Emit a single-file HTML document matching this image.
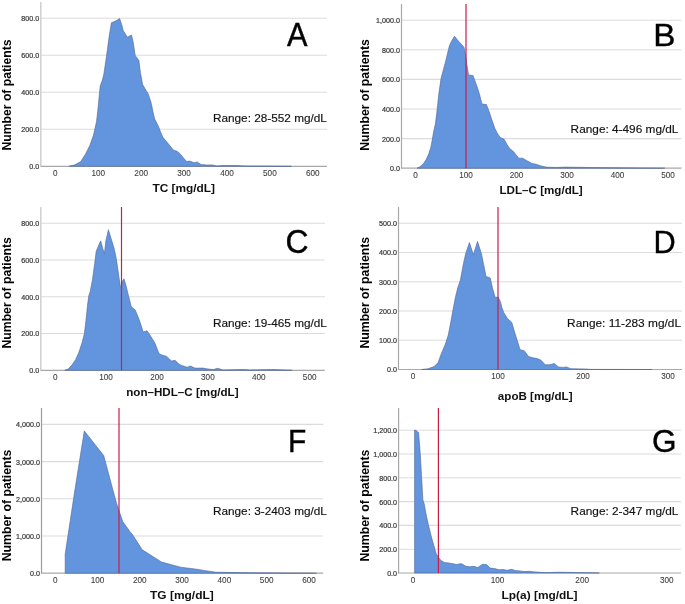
<!DOCTYPE html>
<html><head><meta charset="utf-8"><style>
html,body{margin:0;padding:0;background:#fff;width:685px;height:604px;overflow:hidden}
svg{display:block;will-change:transform;filter:blur(0.35px)}
text{font-family:"Liberation Sans",sans-serif}
.tk{fill:#3a3a3a;stroke:#3a3a3a;stroke-width:0.22px}
.tkx{fill:#3c3c3c;stroke:#3c3c3c;stroke-width:0.08px}
.big{fill:#000;stroke:#000;stroke-width:0.4px}
.rng{fill:#111;stroke:#111;stroke-width:0.15px}
.xt{font-weight:bold;fill:#111}
.yt{font-weight:bold;fill:#000}
</style></head><body>
<svg width="685" height="604" viewBox="0 0 685 604">
<rect width="685" height="604" fill="#fff"/>
<line x1="40.8" y1="129.28" x2="327" y2="129.28" stroke="#dcdcdc" stroke-width="1.1"/>
<line x1="40.8" y1="92.25" x2="327" y2="92.25" stroke="#dcdcdc" stroke-width="1.1"/>
<line x1="40.8" y1="55.22" x2="327" y2="55.22" stroke="#dcdcdc" stroke-width="1.1"/>
<line x1="40.8" y1="18.20" x2="327" y2="18.20" stroke="#dcdcdc" stroke-width="1.1"/>
<line x1="40.8" y1="2" x2="40.8" y2="166.8" stroke="#cfcfcf" stroke-width="1.5"/>
<line x1="40.8" y1="166.30" x2="327" y2="166.30" stroke="#a8a8a8" stroke-width="1.2"/>
<path d="M68.9,166.3 L68.9,166.3 L74.9,164.8 L80.8,161.5 L85.3,154.4 L89.8,145.5 L93.5,135.1 L96.5,121.7 L97.9,109.8 L99.0,97.9 L100.2,86.0 L102.4,80.0 L103.9,74.0 L106.9,53.2 L109.1,36.8 L111.4,22.7 L114.4,21.6 L117.3,20.1 L119.6,18.5 L121.8,24.9 L123.3,30.8 L127.5,37.2 L131.5,35.0 L133.0,41.3 L135.2,55.4 L138.9,60.6 L140.4,72.5 L142.6,84.4 L146.4,91.1 L148.0,93.4 L151.0,102.3 L153.2,112.8 L154.7,119.0 L158.4,126.2 L160.6,132.1 L162.9,137.3 L167.3,142.5 L173.3,150.0 L177.0,151.2 L180.7,154.4 L183.7,158.2 L186.7,161.6 L189.7,161.1 L194.1,162.8 L197.1,161.9 L201.1,164.5 L207.3,165.0 L212.5,164.9 L216.9,166.0 L223.0,165.6 L230.0,165.6 L237.0,165.6 L244.0,166.0 L291.4,166.3 L291.4,166.3 Z" fill="#6395de" stroke="#4d6494" stroke-width="0.6"/>
<text x="39.28" y="169.20" text-anchor="end" style="font-size:7.15px" class="tk" textLength="9.94" lengthAdjust="spacingAndGlyphs">0.0</text>
<text x="39.28" y="132.18" text-anchor="end" style="font-size:7.15px" class="tk" textLength="17.89" lengthAdjust="spacingAndGlyphs">200.0</text>
<text x="39.28" y="95.15" text-anchor="end" style="font-size:7.15px" class="tk" textLength="17.89" lengthAdjust="spacingAndGlyphs">400.0</text>
<text x="39.28" y="58.12" text-anchor="end" style="font-size:7.15px" class="tk" textLength="17.89" lengthAdjust="spacingAndGlyphs">600.0</text>
<text x="39.28" y="21.10" text-anchor="end" style="font-size:7.15px" class="tk" textLength="17.89" lengthAdjust="spacingAndGlyphs">800.0</text>
<text x="55.40" y="175.50" text-anchor="middle" style="font-size:8.2px" class="tkx" textLength="4.56" lengthAdjust="spacingAndGlyphs">0</text>
<text x="98.30" y="175.50" text-anchor="middle" style="font-size:8.2px" class="tkx" textLength="13.68" lengthAdjust="spacingAndGlyphs">100</text>
<text x="141.20" y="175.50" text-anchor="middle" style="font-size:8.2px" class="tkx" textLength="13.68" lengthAdjust="spacingAndGlyphs">200</text>
<text x="184.10" y="175.50" text-anchor="middle" style="font-size:8.2px" class="tkx" textLength="13.68" lengthAdjust="spacingAndGlyphs">300</text>
<text x="227.00" y="175.50" text-anchor="middle" style="font-size:8.2px" class="tkx" textLength="13.68" lengthAdjust="spacingAndGlyphs">400</text>
<text x="269.90" y="175.50" text-anchor="middle" style="font-size:8.2px" class="tkx" textLength="13.68" lengthAdjust="spacingAndGlyphs">500</text>
<text x="312.80" y="175.50" text-anchor="middle" style="font-size:8.2px" class="tkx" textLength="13.68" lengthAdjust="spacingAndGlyphs">600</text>
<text x="286.94" y="46.00" class="big" style="font-size:32.85px" textLength="20.52" lengthAdjust="spacingAndGlyphs">A</text>
<text x="212.93" y="122.00" class="rng" style="font-size:11.48px" textLength="113.96" lengthAdjust="spacingAndGlyphs">Range: 28-552 mg/dL</text>
<text x="152.47" y="191.90" class="xt" style="font-size:11.34px" textLength="62.60" lengthAdjust="spacingAndGlyphs">TC [mg/dL]</text>
<text transform="translate(11.20,0) rotate(-90)" x="-150.62" y="0" class="yt" style="font-size:12.35px" textLength="111.22" lengthAdjust="spacingAndGlyphs">Number of patients</text>
<line x1="401.5" y1="138.60" x2="681.5" y2="138.60" stroke="#dcdcdc" stroke-width="1.1"/>
<line x1="401.5" y1="109.00" x2="681.5" y2="109.00" stroke="#dcdcdc" stroke-width="1.1"/>
<line x1="401.5" y1="79.40" x2="681.5" y2="79.40" stroke="#dcdcdc" stroke-width="1.1"/>
<line x1="401.5" y1="49.80" x2="681.5" y2="49.80" stroke="#dcdcdc" stroke-width="1.1"/>
<line x1="401.5" y1="20.20" x2="681.5" y2="20.20" stroke="#dcdcdc" stroke-width="1.1"/>
<line x1="401.5" y1="4" x2="401.5" y2="168.7" stroke="#a8a8a8" stroke-width="1.2"/>
<line x1="401.5" y1="168.20" x2="681.5" y2="168.20" stroke="#a8a8a8" stroke-width="1.2"/>
<path d="M417.0,168.2 L417.0,168.2 L420.3,166.5 L423.6,163.4 L426.2,159.4 L428.9,153.5 L430.9,146.9 L432.2,140.3 L433.5,132.3 L435.5,123.1 L436.8,112.5 L437.8,103.2 L438.8,94.0 L441.0,78.6 L445.4,62.2 L449.4,45.8 L450.6,42.9 L454.4,36.2 L458.8,41.4 L464.0,47.3 L465.5,54.8 L467.0,65.2 L468.5,74.9 L473.0,75.6 L477.4,87.5 L479.7,95.0 L481.9,103.9 L486.4,104.6 L489.0,111.2 L491.6,119.1 L494.9,128.4 L497.6,133.7 L500.2,137.4 L504.2,139.3 L506.9,144.3 L509.5,148.3 L513.5,151.6 L516.1,154.9 L518.8,158.2 L522.7,158.2 L527.4,160.9 L532.0,163.5 L536.0,164.2 L540.6,165.8 L546.1,167.1 L556.4,167.5 L564.5,167.1 L589.0,167.5 L664.7,168.2 L664.7,168.2 Z" fill="#6395de" stroke="#4d6494" stroke-width="0.6"/>
<line x1="466" y1="4" x2="466" y2="168.2" stroke="rgb(200,30,70)" stroke-width="1.2"/>
<text x="399.98" y="171.10" text-anchor="end" style="font-size:7.15px" class="tk" textLength="9.94" lengthAdjust="spacingAndGlyphs">0.0</text>
<text x="399.98" y="141.50" text-anchor="end" style="font-size:7.15px" class="tk" textLength="17.89" lengthAdjust="spacingAndGlyphs">200.0</text>
<text x="399.98" y="111.90" text-anchor="end" style="font-size:7.15px" class="tk" textLength="17.89" lengthAdjust="spacingAndGlyphs">400.0</text>
<text x="399.98" y="82.30" text-anchor="end" style="font-size:7.15px" class="tk" textLength="17.89" lengthAdjust="spacingAndGlyphs">600.0</text>
<text x="399.98" y="52.70" text-anchor="end" style="font-size:7.15px" class="tk" textLength="17.89" lengthAdjust="spacingAndGlyphs">800.0</text>
<text x="399.98" y="23.10" text-anchor="end" style="font-size:7.15px" class="tk" textLength="23.86" lengthAdjust="spacingAndGlyphs">1,000.0</text>
<text x="415.50" y="177.50" text-anchor="middle" style="font-size:8.2px" class="tkx" textLength="4.56" lengthAdjust="spacingAndGlyphs">0</text>
<text x="466.00" y="177.50" text-anchor="middle" style="font-size:8.2px" class="tkx" textLength="13.68" lengthAdjust="spacingAndGlyphs">100</text>
<text x="516.50" y="177.50" text-anchor="middle" style="font-size:8.2px" class="tkx" textLength="13.68" lengthAdjust="spacingAndGlyphs">200</text>
<text x="567.00" y="177.50" text-anchor="middle" style="font-size:8.2px" class="tkx" textLength="13.68" lengthAdjust="spacingAndGlyphs">300</text>
<text x="617.50" y="177.50" text-anchor="middle" style="font-size:8.2px" class="tkx" textLength="13.68" lengthAdjust="spacingAndGlyphs">400</text>
<text x="668.00" y="177.50" text-anchor="middle" style="font-size:8.2px" class="tkx" textLength="13.68" lengthAdjust="spacingAndGlyphs">500</text>
<text x="653.17" y="45.90" class="big" style="font-size:32.12px" textLength="22.18" lengthAdjust="spacingAndGlyphs">B</text>
<text x="570.63" y="133.20" class="rng" style="font-size:11.34px" textLength="107.76" lengthAdjust="spacingAndGlyphs">Range: 4-496 mg/dL</text>
<text x="499.52" y="194.00" class="xt" style="font-size:11.63px" textLength="83.23" lengthAdjust="spacingAndGlyphs">LDL–C [mg/dL]</text>
<text transform="translate(368.90,0) rotate(-90)" x="-150.72" y="0" class="yt" style="font-size:12.79px" textLength="111.52" lengthAdjust="spacingAndGlyphs">Number of patients</text>
<line x1="40.8" y1="333.55" x2="324.8" y2="333.55" stroke="#dcdcdc" stroke-width="1.1"/>
<line x1="40.8" y1="296.80" x2="324.8" y2="296.80" stroke="#dcdcdc" stroke-width="1.1"/>
<line x1="40.8" y1="260.05" x2="324.8" y2="260.05" stroke="#dcdcdc" stroke-width="1.1"/>
<line x1="40.8" y1="223.30" x2="324.8" y2="223.30" stroke="#dcdcdc" stroke-width="1.1"/>
<line x1="40.8" y1="207" x2="40.8" y2="370.8" stroke="#cfcfcf" stroke-width="1.5"/>
<line x1="40.8" y1="370.30" x2="324.8" y2="370.30" stroke="#a8a8a8" stroke-width="1.2"/>
<path d="M64.7,370.3 L64.7,370.3 L68.6,368.8 L72.6,364.1 L75.7,359.4 L78.9,352.3 L82.0,342.9 L84.4,333.5 L85.9,320.9 L87.5,305.2 L88.8,295.7 L90.2,291.5 L92.5,279.6 L94.7,263.2 L96.2,251.3 L98.4,246.1 L100.7,240.8 L102.9,249.0 L104.4,253.5 L105.9,240.8 L108.4,229.7 L111.8,240.8 L114.1,248.3 L116.3,258.7 L117.8,269.1 L119.3,279.6 L120.5,287.0 L121.5,287.0 L122.5,281.0 L124.0,278.8 L126.0,285.5 L128.1,294.2 L131.3,306.8 L135.2,309.9 L138.4,317.8 L140.7,324.1 L143.1,332.0 L147.0,330.7 L151.0,336.7 L154.9,343.0 L157.3,349.3 L159.3,354.0 L162.8,355.3 L166.7,356.4 L169.1,358.7 L171.5,361.1 L175.1,360.3 L178.5,363.8 L181.7,365.5 L183.5,366.0 L187.0,367.2 L190.5,366.0 L194.9,368.1 L202.8,368.1 L208.0,369.0 L213.3,369.5 L217.7,368.3 L222.9,369.9 L244.8,369.5 L249.2,370.0 L272.9,369.5 L292.1,370.3 L292.1,370.3 Z" fill="#6395de" stroke="#4d6494" stroke-width="0.6"/>
<line x1="121.5" y1="207" x2="121.5" y2="370.3" stroke="rgb(200,30,70)" stroke-width="1.2"/>
<text x="39.28" y="373.20" text-anchor="end" style="font-size:7.15px" class="tk" textLength="9.94" lengthAdjust="spacingAndGlyphs">0.0</text>
<text x="39.28" y="336.45" text-anchor="end" style="font-size:7.15px" class="tk" textLength="17.89" lengthAdjust="spacingAndGlyphs">200.0</text>
<text x="39.28" y="299.70" text-anchor="end" style="font-size:7.15px" class="tk" textLength="17.89" lengthAdjust="spacingAndGlyphs">400.0</text>
<text x="39.28" y="262.95" text-anchor="end" style="font-size:7.15px" class="tk" textLength="17.89" lengthAdjust="spacingAndGlyphs">600.0</text>
<text x="39.28" y="226.20" text-anchor="end" style="font-size:7.15px" class="tk" textLength="17.89" lengthAdjust="spacingAndGlyphs">800.0</text>
<text x="55.20" y="379.50" text-anchor="middle" style="font-size:8.2px" class="tkx" textLength="4.56" lengthAdjust="spacingAndGlyphs">0</text>
<text x="106.10" y="379.50" text-anchor="middle" style="font-size:8.2px" class="tkx" textLength="13.68" lengthAdjust="spacingAndGlyphs">100</text>
<text x="157.00" y="379.50" text-anchor="middle" style="font-size:8.2px" class="tkx" textLength="13.68" lengthAdjust="spacingAndGlyphs">200</text>
<text x="207.90" y="379.50" text-anchor="middle" style="font-size:8.2px" class="tkx" textLength="13.68" lengthAdjust="spacingAndGlyphs">300</text>
<text x="258.80" y="379.50" text-anchor="middle" style="font-size:8.2px" class="tkx" textLength="13.68" lengthAdjust="spacingAndGlyphs">400</text>
<text x="309.70" y="379.50" text-anchor="middle" style="font-size:8.2px" class="tkx" textLength="13.68" lengthAdjust="spacingAndGlyphs">500</text>
<text x="285.38" y="253.48" class="big" style="font-size:33.05px" textLength="23.03" lengthAdjust="spacingAndGlyphs">C</text>
<text x="212.93" y="327.20" class="rng" style="font-size:11.34px" textLength="113.96" lengthAdjust="spacingAndGlyphs">Range: 19-465 mg/dL</text>
<text x="126.23" y="395.80" class="xt" style="font-size:11.48px" textLength="112.32" lengthAdjust="spacingAndGlyphs">non–HDL–C [mg/dL]</text>
<text transform="translate(11.30,0) rotate(-90)" x="-348.52" y="0" class="yt" style="font-size:12.79px" textLength="111.42" lengthAdjust="spacingAndGlyphs">Number of patients</text>
<line x1="398.5" y1="340.26" x2="682" y2="340.26" stroke="#dcdcdc" stroke-width="1.1"/>
<line x1="398.5" y1="311.02" x2="682" y2="311.02" stroke="#dcdcdc" stroke-width="1.1"/>
<line x1="398.5" y1="281.78" x2="682" y2="281.78" stroke="#dcdcdc" stroke-width="1.1"/>
<line x1="398.5" y1="252.54" x2="682" y2="252.54" stroke="#dcdcdc" stroke-width="1.1"/>
<line x1="398.5" y1="223.30" x2="682" y2="223.30" stroke="#dcdcdc" stroke-width="1.1"/>
<line x1="398.5" y1="207" x2="398.5" y2="370.0" stroke="#a8a8a8" stroke-width="1.2"/>
<line x1="398.5" y1="369.50" x2="682" y2="369.50" stroke="#a8a8a8" stroke-width="1.2"/>
<path d="M421.6,369.5 L421.6,369.5 L427.9,368.8 L434.2,366.5 L438.1,362.5 L441.2,353.9 L445.2,344.5 L448.3,335.0 L450.7,322.5 L453.0,309.9 L455.4,297.3 L457.7,287.9 L460.4,280.1 L463.4,263.7 L465.6,254.0 L469.4,242.6 L473.4,254.8 L477.5,241.4 L481.3,253.3 L483.5,263.7 L486.0,276.4 L490.2,277.9 L492.4,287.5 L495.1,297.2 L498.4,297.2 L500.6,302.4 L501.9,307.5 L503.7,312.4 L507.5,318.6 L511.8,322.4 L514.3,331.1 L517.4,341.0 L520.1,349.7 L524.2,350.7 L528.6,356.5 L532.9,357.8 L537.3,358.6 L541.0,360.2 L545.3,364.8 L549.7,364.8 L554.0,363.4 L558.5,366.9 L562.9,367.4 L566.4,366.9 L570.8,368.7 L586.5,369.0 L590.0,369.4 L652.2,369.5 L652.2,369.5 Z" fill="#6395de" stroke="#4d6494" stroke-width="0.6"/>
<line x1="498" y1="207" x2="498" y2="369.5" stroke="rgb(200,30,70)" stroke-width="1.2"/>
<text x="396.98" y="372.40" text-anchor="end" style="font-size:7.15px" class="tk" textLength="9.94" lengthAdjust="spacingAndGlyphs">0.0</text>
<text x="396.98" y="343.16" text-anchor="end" style="font-size:7.15px" class="tk" textLength="17.89" lengthAdjust="spacingAndGlyphs">100.0</text>
<text x="396.98" y="313.92" text-anchor="end" style="font-size:7.15px" class="tk" textLength="17.89" lengthAdjust="spacingAndGlyphs">200.0</text>
<text x="396.98" y="284.68" text-anchor="end" style="font-size:7.15px" class="tk" textLength="17.89" lengthAdjust="spacingAndGlyphs">300.0</text>
<text x="396.98" y="255.44" text-anchor="end" style="font-size:7.15px" class="tk" textLength="17.89" lengthAdjust="spacingAndGlyphs">400.0</text>
<text x="396.98" y="226.20" text-anchor="end" style="font-size:7.15px" class="tk" textLength="17.89" lengthAdjust="spacingAndGlyphs">500.0</text>
<text x="413.00" y="378.90" text-anchor="middle" style="font-size:8.2px" class="tkx" textLength="4.56" lengthAdjust="spacingAndGlyphs">0</text>
<text x="498.00" y="378.90" text-anchor="middle" style="font-size:8.2px" class="tkx" textLength="13.68" lengthAdjust="spacingAndGlyphs">100</text>
<text x="583.00" y="378.90" text-anchor="middle" style="font-size:8.2px" class="tkx" textLength="13.68" lengthAdjust="spacingAndGlyphs">200</text>
<text x="668.00" y="378.90" text-anchor="middle" style="font-size:8.2px" class="tkx" textLength="13.68" lengthAdjust="spacingAndGlyphs">300</text>
<text x="653.38" y="253.20" class="big" style="font-size:31.83px" textLength="22.19" lengthAdjust="spacingAndGlyphs">D</text>
<text x="567.13" y="327.20" class="rng" style="font-size:11.34px" textLength="113.86" lengthAdjust="spacingAndGlyphs">Range: 11-283 mg/dL</text>
<text x="497.86" y="400.00" class="xt" style="font-size:11.63px" textLength="74.69" lengthAdjust="spacingAndGlyphs">apoB [mg/dL]</text>
<text transform="translate(368.90,0) rotate(-90)" x="-348.62" y="0" class="yt" style="font-size:12.94px" textLength="111.72" lengthAdjust="spacingAndGlyphs">Number of patients</text>
<line x1="41.5" y1="536.00" x2="323.2" y2="536.00" stroke="#dcdcdc" stroke-width="1.1"/>
<line x1="41.5" y1="498.80" x2="323.2" y2="498.80" stroke="#dcdcdc" stroke-width="1.1"/>
<line x1="41.5" y1="461.60" x2="323.2" y2="461.60" stroke="#dcdcdc" stroke-width="1.1"/>
<line x1="41.5" y1="424.40" x2="323.2" y2="424.40" stroke="#dcdcdc" stroke-width="1.1"/>
<line x1="41.5" y1="408" x2="41.5" y2="573.7" stroke="#9c9c9c" stroke-width="1.2"/>
<line x1="41.5" y1="573.20" x2="323.2" y2="573.20" stroke="#a8a8a8" stroke-width="1.2"/>
<path d="M65.2,573.2 L65.2,573.2 L65.2,554.0 L74.9,490.0 L84.3,430.9 L103.7,455.5 L112.9,490.0 L116.6,503.4 L119.6,512.3 L122.6,521.3 L126.3,526.5 L130.0,531.7 L132.8,535.1 L142.2,549.7 L161.5,562.0 L180.7,567.2 L195.0,569.0 L204.5,570.5 L215.9,572.2 L252.0,572.8 L289.9,573.1 L316.5,573.2 L316.5,573.2 Z" fill="#6395de" stroke="#4d6494" stroke-width="0.6"/>
<line x1="119" y1="408" x2="119" y2="573.2" stroke="rgb(200,30,70)" stroke-width="1.2"/>
<text x="39.98" y="576.10" text-anchor="end" style="font-size:7.15px" class="tk" textLength="9.94" lengthAdjust="spacingAndGlyphs">0.0</text>
<text x="39.98" y="538.90" text-anchor="end" style="font-size:7.15px" class="tk" textLength="23.86" lengthAdjust="spacingAndGlyphs">1,000.0</text>
<text x="39.98" y="501.70" text-anchor="end" style="font-size:7.15px" class="tk" textLength="23.86" lengthAdjust="spacingAndGlyphs">2,000.0</text>
<text x="39.98" y="464.50" text-anchor="end" style="font-size:7.15px" class="tk" textLength="23.86" lengthAdjust="spacingAndGlyphs">3,000.0</text>
<text x="39.98" y="427.30" text-anchor="end" style="font-size:7.15px" class="tk" textLength="23.86" lengthAdjust="spacingAndGlyphs">4,000.0</text>
<text x="55.20" y="582.50" text-anchor="middle" style="font-size:8.2px" class="tkx" textLength="4.56" lengthAdjust="spacingAndGlyphs">0</text>
<text x="97.50" y="582.50" text-anchor="middle" style="font-size:8.2px" class="tkx" textLength="13.68" lengthAdjust="spacingAndGlyphs">100</text>
<text x="139.80" y="582.50" text-anchor="middle" style="font-size:8.2px" class="tkx" textLength="13.68" lengthAdjust="spacingAndGlyphs">200</text>
<text x="182.10" y="582.50" text-anchor="middle" style="font-size:8.2px" class="tkx" textLength="13.68" lengthAdjust="spacingAndGlyphs">300</text>
<text x="224.40" y="582.50" text-anchor="middle" style="font-size:8.2px" class="tkx" textLength="13.68" lengthAdjust="spacingAndGlyphs">400</text>
<text x="266.70" y="582.50" text-anchor="middle" style="font-size:8.2px" class="tkx" textLength="13.68" lengthAdjust="spacingAndGlyphs">500</text>
<text x="309.00" y="582.50" text-anchor="middle" style="font-size:8.2px" class="tkx" textLength="13.68" lengthAdjust="spacingAndGlyphs">600</text>
<text x="288.05" y="451.70" class="big" style="font-size:31.69px" textLength="18.25" lengthAdjust="spacingAndGlyphs">F</text>
<text x="212.93" y="515.20" class="rng" style="font-size:11.34px" textLength="113.96" lengthAdjust="spacingAndGlyphs">Range: 3-2403 mg/dL</text>
<text x="150.07" y="598.90" class="xt" style="font-size:11.34px" textLength="63.71" lengthAdjust="spacingAndGlyphs">TG [mg/dL]</text>
<text transform="translate(11.30,0) rotate(-90)" x="-561.32" y="0" class="yt" style="font-size:12.79px" textLength="111.72" lengthAdjust="spacingAndGlyphs">Number of patients</text>
<line x1="398.6" y1="549.20" x2="681" y2="549.20" stroke="#dcdcdc" stroke-width="1.1"/>
<line x1="398.6" y1="525.40" x2="681" y2="525.40" stroke="#dcdcdc" stroke-width="1.1"/>
<line x1="398.6" y1="501.60" x2="681" y2="501.60" stroke="#dcdcdc" stroke-width="1.1"/>
<line x1="398.6" y1="477.80" x2="681" y2="477.80" stroke="#dcdcdc" stroke-width="1.1"/>
<line x1="398.6" y1="454.00" x2="681" y2="454.00" stroke="#dcdcdc" stroke-width="1.1"/>
<line x1="398.6" y1="430.20" x2="681" y2="430.20" stroke="#dcdcdc" stroke-width="1.1"/>
<line x1="398.6" y1="408" x2="398.6" y2="573.5" stroke="#a8a8a8" stroke-width="1.2"/>
<line x1="398.6" y1="573.00" x2="681" y2="573.00" stroke="#a8a8a8" stroke-width="1.2"/>
<path d="M414.6,573.0 L414.6,573.0 L414.6,429.9 L416.2,430.6 L418.6,432.6 L420.2,453.1 L421.5,475.6 L422.9,499.9 L424.1,503.5 L426.2,514.7 L428.3,524.6 L431.1,535.8 L433.9,545.7 L436.1,553.5 L438.2,557.0 L441.0,560.5 L444.5,562.6 L448.7,562.9 L453.0,563.7 L456.5,564.6 L460.0,563.7 L462.1,564.0 L465.6,566.1 L469.7,566.8 L473.8,566.3 L477.8,567.5 L482.5,564.3 L486.6,564.5 L490.1,568.1 L494.8,568.6 L498.9,569.8 L503.0,569.5 L507.0,570.3 L511.7,569.3 L515.2,570.5 L519.9,570.9 L524.0,571.6 L528.7,571.3 L535.1,571.9 L545.0,572.7 L558.4,572.2 L599.3,573.0 L599.3,573.0 Z" fill="#6395de" stroke="#4d6494" stroke-width="0.6"/>
<line x1="438.4" y1="408" x2="438.4" y2="573" stroke="rgb(200,30,70)" stroke-width="1.2"/>
<text x="397.08" y="575.90" text-anchor="end" style="font-size:7.15px" class="tk" textLength="9.94" lengthAdjust="spacingAndGlyphs">0.0</text>
<text x="397.08" y="552.10" text-anchor="end" style="font-size:7.15px" class="tk" textLength="17.89" lengthAdjust="spacingAndGlyphs">200.0</text>
<text x="397.08" y="528.30" text-anchor="end" style="font-size:7.15px" class="tk" textLength="17.89" lengthAdjust="spacingAndGlyphs">400.0</text>
<text x="397.08" y="504.50" text-anchor="end" style="font-size:7.15px" class="tk" textLength="17.89" lengthAdjust="spacingAndGlyphs">600.0</text>
<text x="397.08" y="480.70" text-anchor="end" style="font-size:7.15px" class="tk" textLength="17.89" lengthAdjust="spacingAndGlyphs">800.0</text>
<text x="397.08" y="456.90" text-anchor="end" style="font-size:7.15px" class="tk" textLength="23.86" lengthAdjust="spacingAndGlyphs">1,000.0</text>
<text x="397.08" y="433.10" text-anchor="end" style="font-size:7.15px" class="tk" textLength="23.86" lengthAdjust="spacingAndGlyphs">1,200.0</text>
<text x="413.00" y="582.60" text-anchor="middle" style="font-size:8.2px" class="tkx" textLength="4.56" lengthAdjust="spacingAndGlyphs">0</text>
<text x="497.60" y="582.60" text-anchor="middle" style="font-size:8.2px" class="tkx" textLength="13.68" lengthAdjust="spacingAndGlyphs">100</text>
<text x="582.20" y="582.60" text-anchor="middle" style="font-size:8.2px" class="tkx" textLength="13.68" lengthAdjust="spacingAndGlyphs">200</text>
<text x="666.80" y="582.60" text-anchor="middle" style="font-size:8.2px" class="tkx" textLength="13.68" lengthAdjust="spacingAndGlyphs">300</text>
<text x="652.11" y="451.89" class="big" style="font-size:32.20px" textLength="24.54" lengthAdjust="spacingAndGlyphs">G</text>
<text x="570.63" y="515.20" class="rng" style="font-size:11.34px" textLength="107.76" lengthAdjust="spacingAndGlyphs">Range: 2-347 mg/dL</text>
<text x="501.50" y="598.90" class="xt" style="font-size:11.34px" textLength="76.07" lengthAdjust="spacingAndGlyphs">Lp(a) [mg/dL]</text>
<text transform="translate(368.90,0) rotate(-90)" x="-561.52" y="0" class="yt" style="font-size:12.94px" textLength="111.93" lengthAdjust="spacingAndGlyphs">Number of patients</text>
</svg>
</body></html>
